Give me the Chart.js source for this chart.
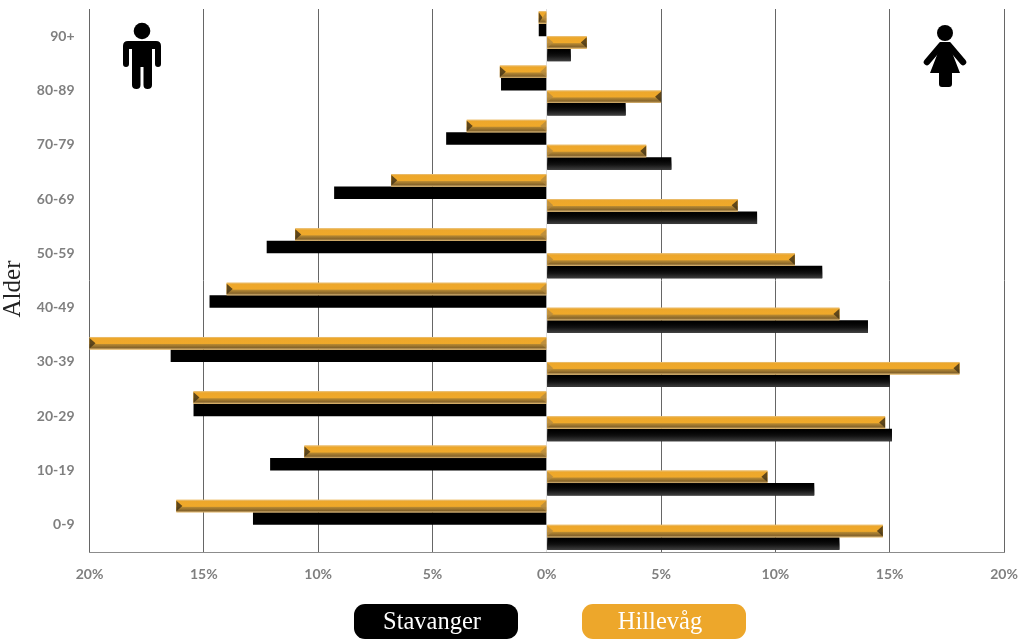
<!DOCTYPE html>
<html>
<head>
<meta charset="utf-8">
<title>Alder</title>
<script src="https://cdn.jsdelivr.net/npm/chart.js@4"></script>
<style>
    html, body { margin: 0; padding: 0; background: #fff; }
    #wrap { position: relative; width: 1024px; height: 640px; overflow: hidden; }
    #icons { position: absolute; left: 0; top: 0; }
    .pill {
        position: absolute; top: 604px; width: 164px; height: 35px; border-radius: 11px; box-sizing: border-box;
        padding-right: 8px; color: #fff; font: 24.5px "Liberation Serif", serif; line-height: 33px; text-align: center;
    }
    #ytitle {
        position: absolute; left: -27px; top: 274px; width: 80px; height: 30px; line-height: 30px; text-align: center;
        color: #222; font: 25px "Liberation Serif", serif; transform: rotate(-90deg);
    }
</style>
</head>
<body>
<div id="wrap">
    <canvas id="chart" width="1024" height="640"></canvas>
    <svg id="icons" width="1024" height="640">
        <circle cx="142" cy="31" r="8.3"/>
        <path d="M128 41H156Q161 41 161 46V64Q161 67 158 67Q155 67 155 64V49H152V85Q152 89 147.500 89Q143.500 89 143.500 85V67H140.500V85Q140.500 89 136.500 89Q132 89 132 85V49H129V64Q129 67 126 67Q123 67 123 64V46Q123 41 128 41Z"/>
        <circle cx="945" cy="33" r="8"/>
        <path d="M940 42H950L953 55L960 73H952V84Q952 87 949 87H942Q939 87 939 84V73H930L937 55Z"/>
        <path d="M941 45.500L927 62M949 45.500L963 62" stroke="#000" stroke-width="6.500" stroke-linecap="round"/>
    </svg>
    <div id="ytitle">Alder</div>
    <div class="pill" style="left:354px;background:#000">Stavanger</div>
    <div class="pill" style="left:582px;background:#eda72b">Hillevåg</div>
</div>
<script>
const ageGroups = ['90+', '80-89', '70-79', '60-69', '50-59', '40-49', '30-39', '20-29', '10-19', '0-9'];
const hillevagMen = [0.35, 2.05, 3.5, 6.8, 11.0, 14.0, 20.0, 15.45, 10.6, 16.2];
const stavangerMen = [0.35, 2.0, 4.4, 9.3, 12.25, 14.75, 16.45, 15.45, 12.1, 12.85];
const hillevagWomen = [1.75, 5.0, 4.35, 8.35, 10.85, 12.8, 18.05, 14.8, 9.65, 14.7];
const stavangerWomen = [1.05, 3.45, 5.45, 9.2, 12.05, 14.05, 15.0, 15.1, 11.7, 12.8];
const axisTicks = [-20, -15, -10, -5, 0, 5, 10, 15, 20];

const negate = list => list.map(v => -v);

// Bevel look of the orange bars, black bars only get a thin grey lower edge
const bevelPlugin = {
    id: 'bevel',
    afterDatasetDraw(chart, args) {
        const ctx = chart.ctx;
        const golden = args.index === 0 || args.index === 2;
        chart.getDatasetMeta(args.index).data.forEach(bar => {
            const p = bar.getProps(['x', 'y', 'base', 'height'], true);
            const left = Math.min(p.x, p.base);
            const right = Math.max(p.x, p.base);
            const top = p.y - p.height / 2;
            const bottom = p.y + p.height / 2;
            const width = right - left;
            ctx.save();
            if (!golden) {
                if (args.index === 3) {
                    const shade = ctx.createLinearGradient(0, top, 0, bottom);
                    shade.addColorStop(0, 'rgba(0,0,0,0)');
                    shade.addColorStop(0.6, 'rgba(20,20,20,1)');
                    shade.addColorStop(1, 'rgba(62,62,62,1)');
                    ctx.fillStyle = shade;
                    ctx.fillRect(left, top, width, bottom - top);
                }
                ctx.restore();
                return;
            }
            const grad = ctx.createLinearGradient(0, top, 0, bottom);
            grad.addColorStop(0, '#e8c484');
            grad.addColorStop(0.12, '#eda72b');
            grad.addColorStop(0.52, '#f0a92a');
            grad.addColorStop(0.6, '#b48732');
            grad.addColorStop(0.85, '#86642a');
            grad.addColorStop(1, '#d9b678');
            ctx.fillStyle = grad;
            ctx.fillRect(left, top, width, bottom - top);
            const cap = Math.min(6, width / 2);
            const mid = (top + bottom) / 2;
            const outerIsLeft = p.x < p.base;
            const outerX = outerIsLeft ? left : right;
            const innerX = outerIsLeft ? right : left;
            const dir = outerIsLeft ? 1 : -1;
            // dark cap at the value end, softer one at the zero line
            ctx.fillStyle = 'rgba(70,54,24,0.85)';
            ctx.beginPath();
            ctx.moveTo(outerX, top + 1);
            ctx.lineTo(outerX + dir * cap, mid);
            ctx.lineTo(outerX, bottom - 1);
            ctx.closePath();
            ctx.fill();
            ctx.fillStyle = 'rgba(176,136,66,0.75)';
            ctx.beginPath();
            ctx.moveTo(innerX, top + 1);
            ctx.lineTo(innerX - dir * cap, mid);
            ctx.lineTo(innerX, bottom - 1);
            ctx.closePath();
            ctx.fill();
            ctx.restore();
        });
    }
};

new Chart(document.getElementById('chart'), {
    type: 'bar',
    data: {
        labels: ageGroups,
        datasets: [
            { label: 'Hillevåg menn', data: negate(hillevagMen), backgroundColor: '#eda72b' },
            { label: 'Stavanger menn', data: negate(stavangerMen), backgroundColor: '#000000' },
            { label: 'Hillevåg kvinner', data: hillevagWomen, backgroundColor: '#eda72b' },
            { label: 'Stavanger kvinner', data: stavangerWomen, backgroundColor: '#000000' }
        ]
    },
    plugins: [bevelPlugin],
    options: {
        indexAxis: 'y',
        responsive: false,
        animation: false,
        barPercentage: 1,
        categoryPercentage: 0.92,
        layout: { padding: { top: 9, right: 20, left: 0, bottom: 0 } },
        plugins: { legend: { display: false }, tooltip: { enabled: false } },
        scales: {
            x: {
                min: -20,
                max: 20,
                afterBuildTicks: scale => { scale.ticks = axisTicks.map(value => ({ value })); },
                afterFit: scale => {
                    scale.height = 88;
                    scale.paddingLeft = 0;
                    scale.paddingRight = 0;
                },
                grid: {
                    color: c => (c.tick && c.tick.value === 0 ? '#dddddd' : '#666666'),
                    lineWidth: 1,
                    drawTicks: false
                },
                border: { color: '#8c8c8c', width: 1 },
                ticks: {
                    padding: 14,
                    maxRotation: 0,
                    color: '#7f7f7f',
                    font: { family: 'Lato', size: 14, weight: 'bold' },
                    callback: v => Math.abs(v) + '%'
                }
            },
            y: {
                afterFit: scale => {
                    scale.width = 89.5;
                    scale.paddingTop = 0;
                    scale.paddingBottom = 0;
                },
                grid: { display: false },
                border: { display: false },
                ticks: {
                    padding: 7,
                    color: '#7f7f7f',
                    font: { family: 'Lato', size: 14, weight: 'bold' }
                }
            }
        }
    }
});
</script>
</body>
</html>
